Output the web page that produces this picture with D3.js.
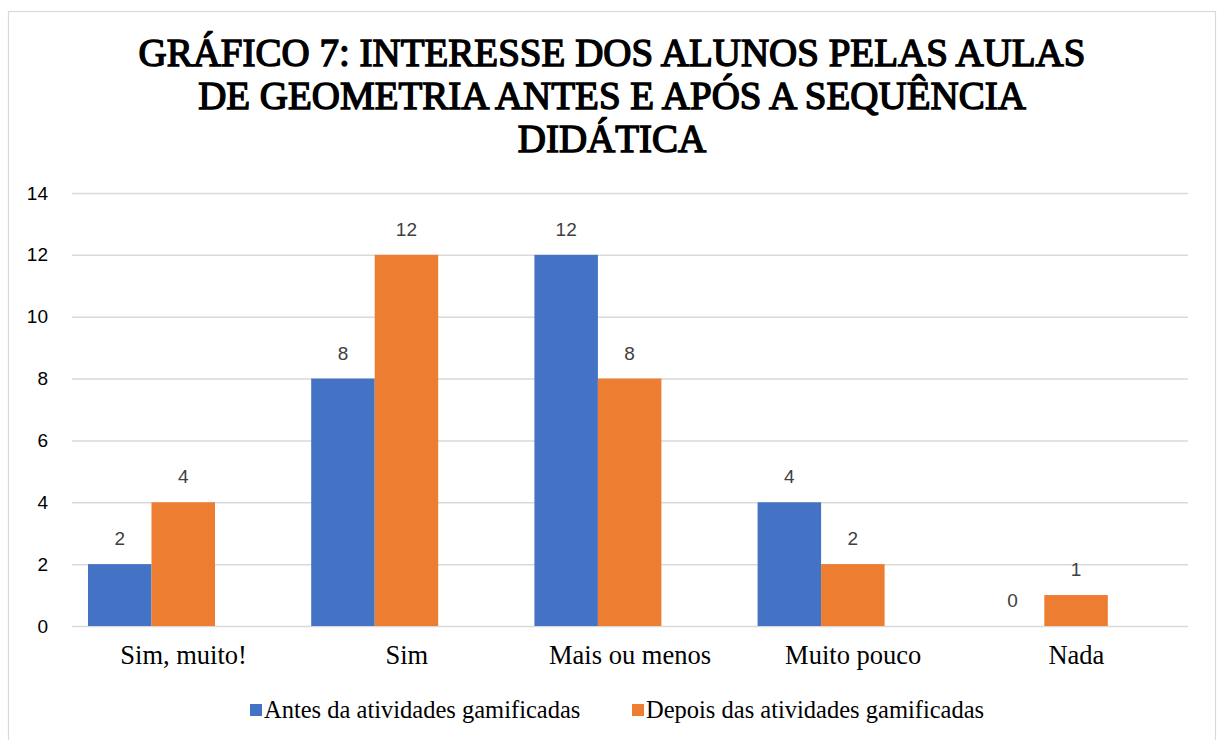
<!DOCTYPE html>
<html>
<head>
<meta charset="utf-8">
<script src="https://cdn.jsdelivr.net/npm/d3@7"></script>
<style>
  body { margin: 0; background: #fff; }
  svg { display: block; }
</style>
</head>
<body>
<div id="chart"></div>
<script>
// chart data
var categories = ["Sim, muito!", "Sim", "Mais ou menos", "Muito pouco", "Nada"];
var seriesNames = ["Antes da atividades gamificadas", "Depois das atividades gamificadas"];
var antes = [2, 8, 12, 4, 0];
var depois = [4, 12, 8, 2, 1];
var yTicks = [0, 2, 4, 6, 8, 10, 12, 14];
var titleLines = ["GRÁFICO 7: INTERESSE DOS ALUNOS PELAS AULAS",
                  "DE GEOMETRIA ANTES E APÓS A SEQUÊNCIA",
                  "DIDÁTICA"];

var colors = ["#4472C4", "#ED7D31"];

var W = 1217, H = 740;
var plotLeft = 72, plotRight = 1188, plotTop = 193, plotBottom = 626;
var serif = '"Liberation Serif", "Times New Roman", Times, serif';
var sans = '"Liberation Sans", Arial, sans-serif';

var svg = d3.select('#chart')
            .append('svg')
            .attr('width', W)
            .attr('height', H);

// outer chart border
svg.append('rect')
   .attr('x', 8.5).attr('y', 11.5)
   .attr('width', 1207).attr('height', 740)
   .attr('fill', 'none')
   .attr('stroke', '#d9d9d9')
   .attr('stroke-width', 1.2);

// title (bold serif face is not installed, so thicken the regular one)
svg.append('text')
   .attr('text-anchor', 'middle')
   .style('font-family', serif)
   .style('font-size', '39px')
   .attr('fill', '#000')
   .attr('stroke', '#000')
   .attr('stroke-width', 1.4)
   .selectAll('tspan')
   .data(titleLines)
   .enter().append('tspan')
   .attr('x', 612)
   .attr('y', function(d, i) { return 66 + i * 43; })
   .text(function(d) { return d; });

var x0 = d3.scaleBand()
           .domain(categories)
           .range([plotLeft, plotRight]);

// bars sit left of each band's centre, as in the source chart
var x1 = d3.scaleBand()
           .domain([0, 1])
           .range([16, 143]);

var y = d3.scaleLinear()
          .domain([0, 14])
          .range([plotBottom, plotTop]);

// gridlines and y labels
var y_axis = d3.axisLeft(y)
               .tickValues(yTicks)
               .tickSizeInner(-(plotRight - plotLeft))
               .tickSizeOuter(0)
               .tickPadding(24);

var gy = svg.append('g')
            .attr('transform', 'translate(' + plotLeft + ',0)')
            .call(y_axis);
gy.select('.domain').remove();
gy.selectAll('.tick line').attr('stroke', '#d9d9d9').attr('stroke-width', 1.5);
gy.selectAll('.tick text')
  .style('font-family', sans)
  .style('font-size', '19px')
  .attr('fill', '#000');

// x axis labels
var x_axis = d3.axisBottom(x0).tickSize(0).tickPadding(19);
var gx = svg.append('g')
            .attr('transform', 'translate(0,' + plotBottom + ')')
            .call(x_axis);
gx.select('.domain').remove();
gx.selectAll('.tick text')
  .style('font-family', serif)
  .style('font-size', '26.5px')
  .attr('fill', '#000');

var rows = categories.map(function(c, i) {
  return { cat: c, values: [antes[i], depois[i]] };
});

var groups = svg.selectAll('.grp')
                .data(rows)
                .enter().append('g')
                .attr('transform', function(d) { return 'translate(' + x0(d.cat) + ',0)'; });

groups.selectAll('rect')
      .data(function(d) { return d.values.map(function(v, k) { return { k: k, v: v }; }); })
      .enter().append('rect')
      .attr('x', function(d) { return x1(d.k); })
      .attr('y', function(d) { return y(d.v); })
      .attr('width', x1.bandwidth())
      .attr('height', function(d) { return plotBottom - y(d.v); })
      .attr('fill', function(d) { return colors[d.k]; });

// value labels
groups.selectAll('.lbl')
      .data(function(d) { return d.values.map(function(v, k) { return { k: k, v: v }; }); })
      .enter().append('text')
      .attr('x', function(d) { return x1(d.k) + x1.bandwidth() / 2; })
      .attr('y', function(d) { return y(d.v) - 19; })
      .attr('text-anchor', 'middle')
      .style('font-family', sans)
      .style('font-size', '19px')
      .attr('fill', '#404040')
      .text(function(d) { return d.v; });

// legend
var legendX = [250, 632];
var legend = svg.selectAll('.leg')
                .data(seriesNames)
                .enter().append('g')
                .attr('transform', function(d, i) { return 'translate(' + legendX[i] + ',704)'; });
legend.append('rect')
      .attr('width', 12).attr('height', 12)
      .attr('fill', function(d, i) { return colors[i]; });
legend.append('text')
      .attr('x', 14).attr('y', 14)
      .style('font-family', serif)
      .style('font-size', '24.5px')
      .attr('fill', '#000')
      .text(function(d) { return d; });
</script>
</body>
</html>
